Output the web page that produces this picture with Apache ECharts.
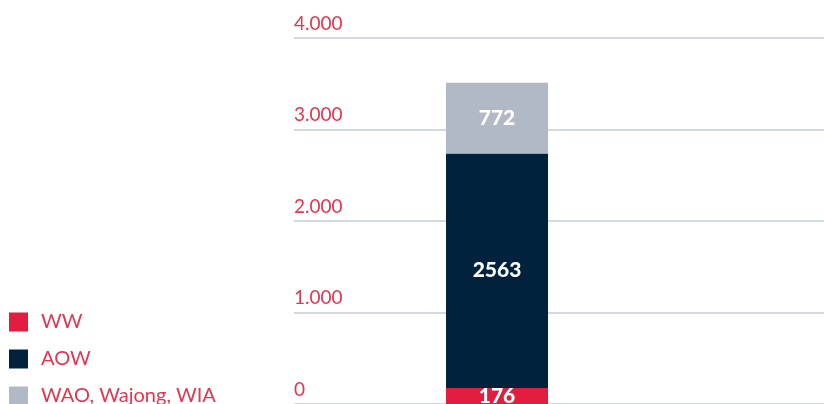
<!DOCTYPE html>
<html>
<head>
<meta charset="utf-8">
<script src="https://cdn.jsdelivr.net/npm/echarts@6/dist/echarts.min.js"></script>
<style>
  html, body { margin: 0; padding: 0; background: #fff; }
  #chart { width: 824px; height: 404px; }
</style>
</head>
<body>
<div id="chart"></div>
<script>
var categories = ['']
var seriesNames = ['WW', 'AOW', 'WAO, Wajong, WIA']
var wwData = [176]
var aowData = [2563]
var waoData = [772]
var yTicks = [0, 1000, 2000, 3000, 4000]

var colors = ['#e31d3f', '#00223c', '#b2b9c6']
var textRed = '#e8344f'

function fmt(v) {
  // nederlandse notatie: 1.000
  return String(v).replace(/\B(?=(\d{3})+(?!\d))/g, '.')
}

var chart = echarts.init(document.getElementById('chart'))

function barSeries(name, data, color) {
  return {
    name: name,
    type: 'bar',
    stack: 'total',
    xAxisIndex: 1,
    yAxisIndex: 1,
    barWidth: '100%',
    data: data,
    itemStyle: { color: color },
    label: {
      show: true,
      position: 'inside',
      color: '#fff',
      fontFamily: 'Lato',
      fontWeight: 900,
      fontSize: 21
    }
  }
}

chart.setOption({
  animation: false,
  textStyle: { fontFamily: 'Lato' },
  grid: [
    { left: 294, right: 0, top: 38, bottom: 0 },
    { left: 446, width: 102, top: 38, bottom: 0 }
  ],
  legend: {
    orient: 'vertical',
    left: 9,
    top: 312,
    height: 120,
    padding: 0,
    itemWidth: 19,
    itemHeight: 19,
    itemGap: 17,
    icon: 'rect',
    data: seriesNames,
    textStyle: {
      color: textRed,
      fontSize: 20,
      padding: [0, 0, 0, 8]
    }
  },
  xAxis: [
    { type: 'category', gridIndex: 0, data: categories, show: false },
    { type: 'category', gridIndex: 1, data: categories, show: false }
  ],
  yAxis: [
    {
      type: 'value',
      gridIndex: 0,
      min: yTicks[0],
      max: yTicks[yTicks.length - 1],
      interval: 1000,
      axisLine: { show: false },
      axisTick: { show: false },
      splitLine: { lineStyle: { color: '#c5ccd8', width: 1.5 } },
      axisLabel: {
        inside: true,
        margin: 0,
        verticalAlign: 'bottom',
        padding: [0, 0, 5, 0],
        color: textRed,
        fontSize: 19,
        formatter: fmt
      }
    },
    {
      type: 'value',
      gridIndex: 1,
      min: yTicks[0],
      max: yTicks[yTicks.length - 1],
      interval: 1000,
      show: false,
      splitLine: { show: false }
    }
  ],
  series: [
    barSeries(seriesNames[0], wwData, colors[0]),
    barSeries(seriesNames[1], aowData, colors[1]),
    barSeries(seriesNames[2], waoData, colors[2])
  ]
})
</script>
</body>
</html>
